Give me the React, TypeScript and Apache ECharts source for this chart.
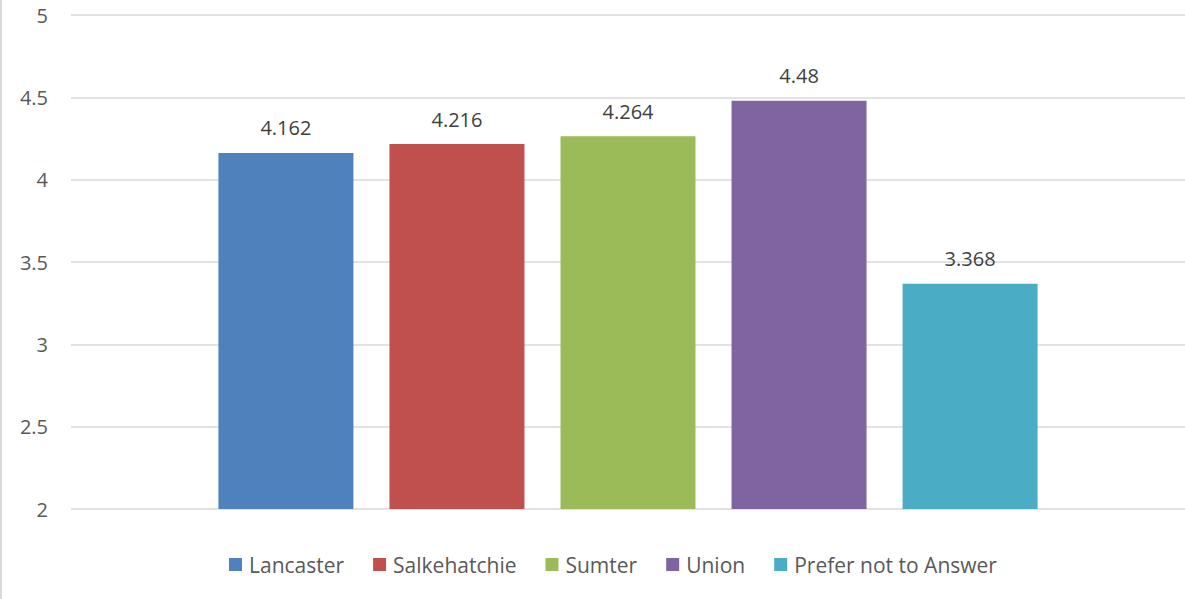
import React, { useEffect, useRef } from "react";
import * as echarts from "echarts";

const seriesNames = ["Lancaster", "Salkehatchie", "Sumter", "Union", "Prefer not to Answer"];
const seriesValues = [4.162, 4.216, 4.264, 4.48, 3.368];
const seriesColors = ["#4F81BD", "#C0504D", "#9BBB59", "#8064A2", "#4BACC6"];
const categories = [""];

export default function App() {
  const ref = useRef<HTMLDivElement>(null);
  useEffect(() => {
    if (!ref.current) return;
    const chart = echarts.init(ref.current, null, { renderer: "svg" });
    chart.setOption({
      animation: false,
      textStyle: { fontFamily: "Open Sans" },
      grid: { left: 71, right: 0, top: 15, bottom: 90, containLabel: false },
      xAxis: {
        type: "category",
        data: categories,
        axisLine: { show: false },
        axisTick: { show: false },
        axisLabel: { show: false },
      },
      yAxis: {
        type: "value",
        min: 2,
        max: 5,
        interval: 0.5,
        axisLine: { show: false },
        axisTick: { show: false },
        axisLabel: { color: "#595959", fontSize: 20, margin: 23, fontFamily: "Open Sans" },
        splitLine: { lineStyle: { color: "#D9D9D9", width: 1.5 } },
      },
      legend: {
        top: 554,
        left: 229,
        padding: 0,
        itemWidth: 13,
        itemHeight: 13,
        itemGap: 29,
        icon: "rect",
        textStyle: { color: "#595959", fontSize: 21, fontFamily: "Open Sans", padding: [0, 0, 0, 2] },
        data: seriesNames,
      },
      graphic: [
        {
          type: "line",
          shape: { x1: 1, y1: 0, x2: 1, y2: 599 },
          style: { stroke: "#D9D9D9", lineWidth: 2 },
        },
      ],
      series: seriesNames.map((name, i) => ({
        name,
        type: "bar",
        data: [seriesValues[i]],
        barWidth: 135,
        barGap: "26.7%",
        itemStyle: { color: seriesColors[i] },
        label: {
          show: true,
          position: "top",
          distance: 15,
          color: "#404040",
          fontSize: 20,
          fontFamily: "Open Sans",
        },
      })),
    });
    return () => chart.dispose();
  }, []);
  return (
    <div
      ref={ref}
      style={{ position: "fixed", left: 0, top: 0, width: 1185, height: 599, background: "#fff" }}
    />
  );
}
